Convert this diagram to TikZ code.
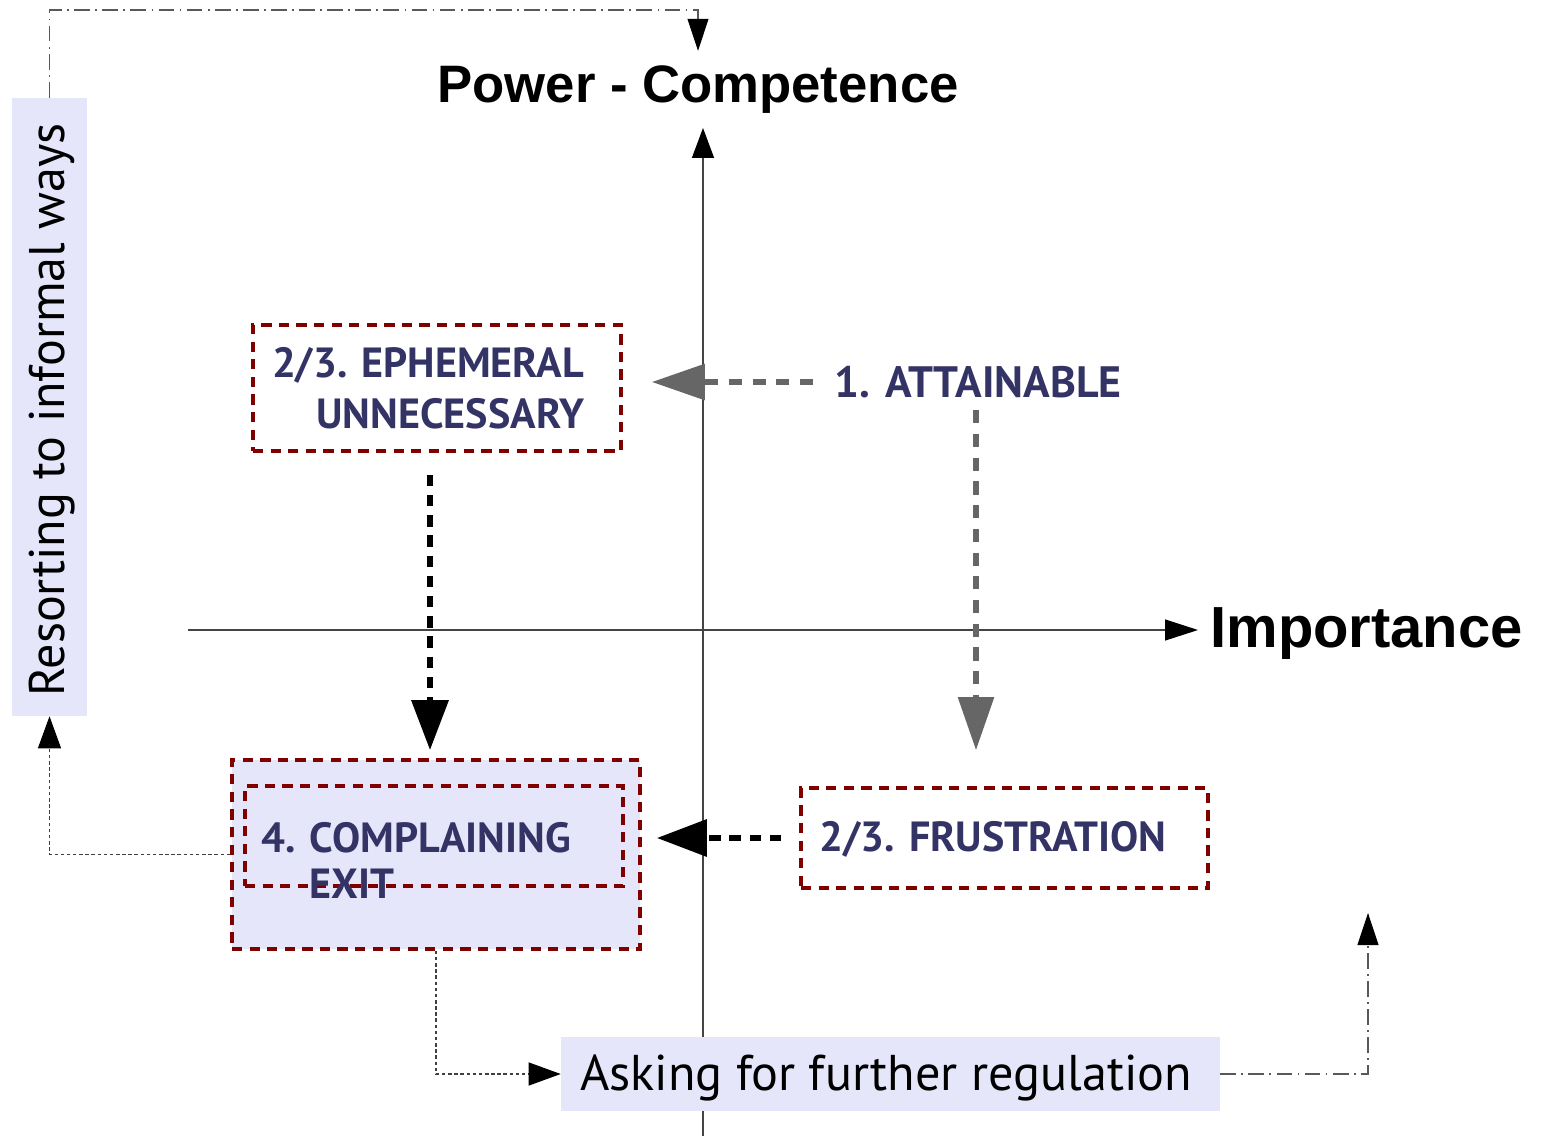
\documentclass[tikz,border=0pt]{standalone}
\usepackage{fontspec}
\setmainfont{PT Sans}
\newfontfamily\arialf{Liberation Sans}
\usetikzlibrary{arrows.meta}
\definecolor{lav}{HTML}{E6E6FA}
\definecolor{dred}{HTML}{800000}
\definecolor{navy}{HTML}{333366}
\definecolor{grayarrow}{HTML}{666666}
\definecolor{axisgray}{HTML}{444444}
\begin{document}
\begin{tikzpicture}[x=0.02cm,y=-0.02cm,
  redbox/.style={draw=dred, line width=2.1pt, dash pattern=on 5.8pt off 4.2pt, inner sep=0pt},
  lavbox/.style={fill=lav, inner sep=0pt},
  lbl/.style={text=navy, font=\bfseries\fontsize{24}{29}\selectfont, inner sep=0pt},
  bigtitle/.style={font=\arialf\bfseries\fontsize{30}{36}\selectfont, inner sep=0pt},
  axisline/.style={draw=axisgray, line width=0.8pt},
  grayflow/.style={draw=grayarrow, line width=3.2pt, dash pattern=on 7.5pt off 6pt,
     -{Triangle[length=1.06cm,width=0.7cm,color=grayarrow]}},
  blackflow/.style={draw=black, line width=3.6pt, dash pattern=on 6.5pt off 5pt,
     -{Triangle[length=1.0cm,width=0.72cm,color=black]}},
  dotflow/.style={draw=black!75, line width=0.6pt, dash pattern=on 2pt off 1.5pt,
     -{Triangle[length=0.64cm,width=0.46cm,color=black]}},
  dashdot/.style={draw=black!65, line width=0.6pt, dash pattern=on 9pt off 3pt on 1pt off 3pt,
     -{Triangle[length=0.64cm,width=0.42cm,color=black]}}
]
\useasboundingbox (0,0) rectangle (1546,1136);

% axes
\coordinate (yb) at (703,1136);
\coordinate (yt) at (703,128);
\coordinate (xl) at (188,630);
\coordinate (xr) at (1198,630);
\draw[axisline, -{Triangle[length=0.6cm,width=0.44cm,color=black]}] (yb) -- (yt);
\draw[axisline, -{Triangle[length=0.66cm,width=0.42cm,color=black]}] (xl) -- (xr);
\node[bigtitle] (ytitle) at (698,90) {Power - Competence};
\node[bigtitle, font=\arialf\bfseries\fontsize{33}{40}\selectfont, anchor=west] (xtitle) at (1210,634) {Importance};

% side label
\node[lavbox, minimum width=1.5cm, minimum height=12.36cm] (resort) at (49.5,407) {};
\node[rotate=90, font=\fontsize{28.5}{34}\selectfont, inner sep=0pt] (resortt) at (52,410) {Resorting to informal ways};

% boxes
\node[redbox, minimum width=7.36cm, minimum height=2.52cm] (eph) at (437,388) {};
\node[lbl, align=right] (epht) at (428,388) {2/3. EPHEMERAL\\UNNECESSARY};

\node[lbl, font=\bfseries\fontsize{25}{30}\selectfont] (att) at (978,382) {1. ATTAINABLE};

\node[redbox, fill=lav, minimum width=8.16cm, minimum height=3.78cm] (outer) at (436,854.5) {};
\node[redbox, minimum width=7.56cm, minimum height=2.0cm] (inner) at (434,836) {};
\node[lbl, anchor=west] (c1) at (261,838) {4. COMPLAINING};
\node[lbl, anchor=west] (c2) at (309,884) {EXIT};

\node[redbox, minimum width=8.14cm, minimum height=2.0cm] (frust) at (1004.5,838) {};
\node[lbl] (frustt) at (993,839) {2/3. FRUSTRATION};

\node[lavbox, minimum width=13.18cm, minimum height=1.48cm] (ask) at (890.5,1074) {};
\node[font=\fontsize{28.6}{34}\selectfont, inner sep=0pt] (askt) at (886,1078) {Asking for further regulation};

% flows
\draw[grayflow] ([xshift=-0.42cm]att.west) -- ([xshift=0.58cm]eph.east |- att.west);
\draw[grayflow] ([xshift=-0.04cm,yshift=-0.24cm]att.south) -- ([xshift=-0.04cm,yshift=0.72cm]att.south |- frust.north);
\draw[blackflow] ([xshift=-0.14cm,yshift=-0.44cm]eph.south) -- ([xshift=-0.14cm,yshift=0.16cm]eph.south |- outer.north);
\draw[blackflow] ([xshift=-0.36cm]frust.west) -- ([xshift=0.3cm]outer.east |- frust.west);

\draw[dotflow] (outer.west) -| (resort.south);
\draw[dotflow] (outer.south) |- (ask.west);

\coordinate (rtip) at (1368,913);
\draw[dashdot] (ask.east) -| (rtip);
\coordinate (tcorner) at (49.5,10);
\draw[dashdot] (resort.north) -- (tcorner) -| ([yshift=0.3cm]ytitle.north);
\end{tikzpicture}
\end{document}
